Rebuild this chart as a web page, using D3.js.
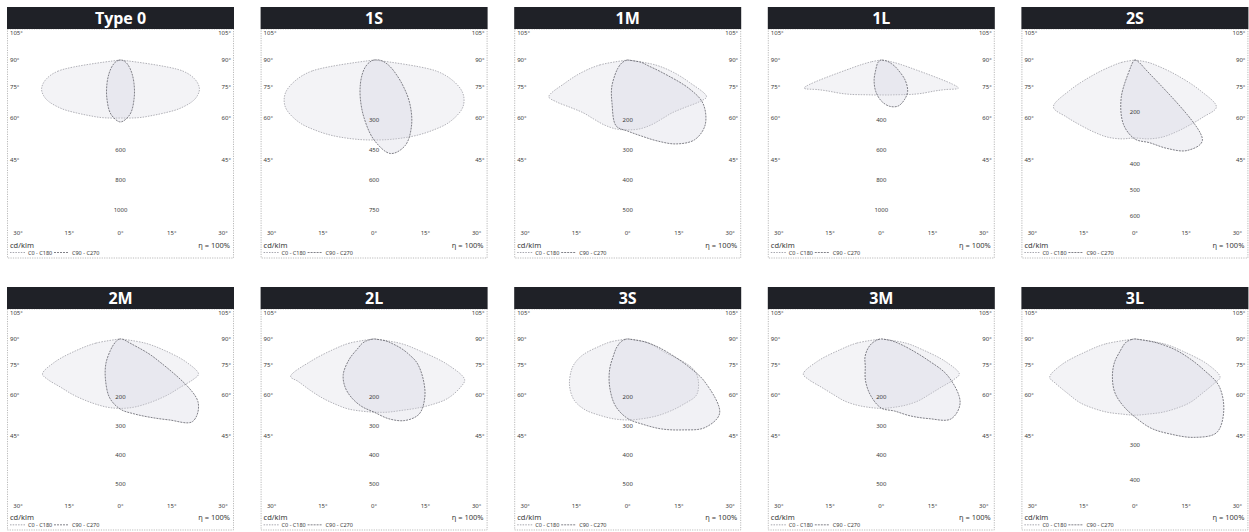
<!DOCTYPE html>
<html>
<head>
<meta charset="utf-8">
<script src="https://cdn.jsdelivr.net/npm/d3@7"></script>
<style>
  body { margin: 0; background: #fff; }
  text { font-family: "Noto Sans", "DejaVu Sans", sans-serif; fill: #3a3a3a; }
</style>
</head>
<body>
<div id="chart"></div>
<script>
// distribution types, one panel each
const types = ["Type 0", "1S", "1M", "1L", "2S", "2M", "2L", "3S", "3M", "3L"];

// gamma angles (deg from nadir, negative = C180 / C270 side)
const angles = [-90, -80, -75, -70, -65, -60, -50, -40, -30, -20, -10, 0, 10, 20, 30, 40, 50, 60, 65, 70, 75, 80, 90];

// luminous intensity, cd/klm, C0 - C180 plane
const type0_c0 = [0, 420, 519, 560, 565, 553, 507, 460, 427, 407, 393, 387, 393, 407, 427, 460, 507, 553, 565, 560, 519, 420, 0];
const t1S_c0 = [0, 314, 412, 470, 496, 503, 487, 458, 434, 415, 404, 400, 404, 415, 434, 458, 487, 503, 496, 470, 412, 314, 0];
const t1M_c0 = [0, 93, 157, 220, 290, 277, 247, 230, 227, 230, 233, 233, 233, 230, 227, 230, 247, 277, 290, 220, 157, 93, 0];
const t1L_c0 = [0, 67, 200, 547, 467, 413, 347, 300, 267, 247, 237, 233, 237, 247, 267, 300, 347, 413, 467, 547, 200, 67, 0];
const t2S_c0 = [0, 50, 96, 173, 277, 362, 342, 327, 319, 315, 308, 300, 308, 315, 319, 327, 342, 362, 277, 173, 96, 50, 0];
const t2M_c0 = [0, 83, 150, 233, 287, 280, 260, 250, 243, 240, 240, 240, 240, 240, 243, 250, 260, 280, 287, 233, 150, 83, 0];
const t2L_c0 = [0, 83, 140, 223, 307, 293, 277, 267, 260, 257, 253, 253, 257, 263, 277, 297, 320, 333, 333, 263, 157, 90, 0];
const t3S_c0 = [0, 57, 97, 157, 193, 217, 253, 277, 283, 280, 280, 280, 280, 283, 287, 293, 300, 270, 237, 127, 90, 57, 0];
const t3M_c0 = [0, 83, 140, 227, 287, 280, 260, 250, 247, 243, 240, 240, 240, 243, 247, 250, 260, 280, 287, 227, 140, 83, 0];
const t3L_c0 = [0, 82, 137, 213, 257, 251, 240, 235, 227, 221, 216, 216, 216, 221, 227, 235, 240, 251, 257, 213, 137, 82, 0];

// luminous intensity, cd/klm, C90 - C270 plane
const type0_c90 = [0, 13, 23, 33, 43, 53, 80, 120, 180, 267, 367, 413, 367, 267, 180, 120, 80, 53, 43, 33, 23, 13, 0];
const t1S_c90 = [0, 0, 4, 14, 24, 35, 60, 92, 137, 202, 292, 400, 475, 455, 375, 275, 180, 117, 96, 78, 62, 49, 26];
const t1M_c90 = [0, 3, 7, 13, 20, 27, 43, 67, 107, 153, 223, 237, 257, 287, 323, 347, 337, 290, 227, 123, 67, 47, 0];
const t1L_c90 = [0, 0, 0, 7, 13, 20, 33, 47, 73, 140, 213, 273, 313, 327, 307, 273, 207, 127, 100, 73, 53, 33, 0];
const t2S_c90 = [0, 0, 0, 0, 4, 4, 8, 15, 35, 154, 252, 304, 323, 362, 402, 404, 46, 19, 12, 8, 4, 4, 0];
const t2M_c90 = [0, 3, 7, 10, 13, 17, 30, 53, 97, 147, 207, 243, 263, 288, 323, 373, 337, 133, 40, 20, 13, 7, 0];
const t2L_c90 = [0, 13, 27, 40, 50, 60, 107, 160, 193, 217, 237, 253, 280, 300, 300, 263, 213, 165, 130, 97, 63, 40, 0];
const t3S_c90 = [0, 7, 13, 20, 27, 33, 50, 73, 120, 176, 235, 275, 300, 331, 363, 400, 400, 297, 220, 150, 100, 57, 0];
const t3M_c90 = [0, 7, 13, 23, 33, 43, 63, 85, 107, 154, 200, 239, 253, 283, 318, 361, 343, 257, 167, 100, 60, 33, 0];
const t3L_c90 = [0, 8, 16, 25, 30, 36, 52, 87, 123, 161, 191, 221, 257, 287, 322, 347, 317, 265, 208, 156, 109, 55, 0];

// intensity at the outer radius of each diagram, and the ring labels shown
const scaleMax = [1000, 750, 500, 1000, 577, 500, 500, 500, 500, 410];
const ringLabels = [
  [600, 800, 1000], [300, 450, 600, 750], [200, 300, 400, 500], [400, 600, 800, 1000], [200, 400, 500, 600],
  [200, 300, 400, 500], [200, 300, 400, 500], [200, 300, 400, 500], [200, 300, 400, 500], [300, 400]
];

// angle labels on the frame
const sideAngles = [105, 90, 75, 60, 45];
const bottomAngles = [-30, -15, 0, 15, 30];

const c0Data = [type0_c0, t1S_c0, t1M_c0, t1L_c0, t2S_c0, t2M_c0, t2L_c0, t3S_c0, t3M_c0, t3L_c0];
const c90Data = [type0_c90, t1S_c90, t1M_c90, t1L_c90, t2S_c90, t2M_c90, t2L_c90, t3S_c90, t3M_c90, t3L_c90];

const width = 1249;
const height = 532;
const W = 227;        // panel width
const headerH = 22;
const R = 150;        // outer radius in px
const K = 100;        // half width used for the side angle labels
const colX = d3.range(5).map(i => 7 + i * 253.6);
const rows = [{ top: 7, sy: 1 }, { top: 287, sy: 0.965 }];

const svg = d3.select("#chart")
  .append("svg")
  .attr("width", width)
  .attr("height", height);

types.forEach((type, i) => {
  const row = rows[Math.floor(i / 5)];
  const sy = row.sy;
  const x0 = colX[i % 5];
  const cx = x0 + W / 2;
  const top = row.top + headerH;
  const oy = top + 31 * sy;
  const bottom = top + 229 * sy;

  const g = svg.append("g");

  // frame
  g.append("rect")
    .attr("x", x0 + 0.5)
    .attr("y", top)
    .attr("width", W - 1)
    .attr("height", bottom - top)
    .attr("fill", "#fff")
    .attr("stroke", "#a8a8a8")
    .attr("stroke-width", 0.8)
    .attr("stroke-dasharray", "1.2,1.2");

  // header
  g.append("rect")
    .attr("x", x0)
    .attr("y", row.top)
    .attr("width", W)
    .attr("height", headerH)
    .attr("fill", "#1f2127");

  g.append("text")
    .attr("x", cx)
    .attr("y", row.top + headerH / 2)
    .attr("dy", "0.36em")
    .attr("text-anchor", "middle")
    .style("fill", "#fff")
    .style("font-family", "'Open Sans', sans-serif")
    .style("font-weight", 700)
    .style("font-size", "16px")
    .text(type);

  // curves
  const r = d3.scaleLinear().domain([0, scaleMax[i]]).range([0, R]);
  const radial = d3.lineRadial()
    .angle(d => Math.PI - d[0] * Math.PI / 180)
    .radius(d => r(d[1]))
    .curve(d3.curveCatmullRomClosed.alpha(0.5));

  const plot = g.append("g")
    .attr("transform", `translate(${cx},${oy}) scale(1,${sy})`);

  plot.append("path")
    .attr("d", radial(d3.zip(angles, c0Data[i])))
    .attr("fill", "rgba(222,221,231,0.36)")
    .attr("stroke", "#90909a")
    .attr("stroke-width", 0.7)
    .attr("stroke-dasharray", "1.5,1.2")
    .attr("vector-effect", "non-scaling-stroke");

  plot.append("path")
    .attr("d", radial(d3.zip(angles, c90Data[i])))
    .attr("fill", "rgba(210,209,222,0.3)")
    .attr("stroke", "#62626b")
    .attr("stroke-width", 0.8)
    .attr("stroke-dasharray", "2,1")
    .attr("vector-effect", "non-scaling-stroke");

  // ring labels
  g.selectAll(".ring")
    .data(ringLabels[i])
    .join("text")
    .attr("x", cx)
    .attr("y", d => oy + sy * r(d))
    .attr("dy", "0.35em")
    .attr("text-anchor", "middle")
    .style("font-size", "6px")
    .text(d => d);

  // side angle labels
  const sideY = a => oy + sy * K / Math.tan(a * Math.PI / 180);
  [["start", x0 + 3], ["end", x0 + W - 3]].forEach(([anchor, x]) => {
    g.selectAll(null)
      .data(sideAngles)
      .join("text")
      .attr("x", x)
      .attr("y", d => sideY(d))
      .attr("dy", "0.35em")
      .attr("text-anchor", anchor)
      .style("font-size", "6px")
      .text(d => d + "°");
  });

  // bottom angle labels
  const xb = d3.scaleLinear().domain([-30, 30]).range([x0 + 11, x0 + W - 11]);
  const by = oy + 173 * sy;
  g.selectAll(null)
    .data(bottomAngles)
    .join("text")
    .attr("x", d => xb(d))
    .attr("y", by)
    .attr("dy", "0.35em")
    .attr("text-anchor", "middle")
    .style("font-size", "6px")
    .text(d => Math.abs(d) + "°");

  // legend
  const ly = by + 15 * sy;
  g.append("text")
    .attr("x", x0 + 3)
    .attr("y", ly)
    .style("font-size", "7.5px")
    .text("cd/klm");

  g.append("text")
    .attr("x", x0 + W - 4)
    .attr("y", ly)
    .attr("text-anchor", "end")
    .style("font-size", "7.5px")
    .text("η = 100%");

  const items = [
    { label: "C0 - C180", x: x0 + 3, stroke: "#90909a", dash: "1.5,1.2" },
    { label: "C90 - C270", x: x0 + 47, stroke: "#62626b", dash: "2,1" }
  ];
  items.forEach(it => {
    g.append("line")
      .attr("x1", it.x)
      .attr("x2", it.x + 15)
      .attr("y1", ly + 4.5)
      .attr("y2", ly + 4.5)
      .attr("stroke", it.stroke)
      .attr("stroke-width", 0.8)
      .attr("stroke-dasharray", it.dash);
    g.append("text")
      .attr("x", it.x + 18)
      .attr("y", ly + 6.5)
      .style("font-size", "5.5px")
      .text(it.label);
  });
});
</script>
</body>
</html>
